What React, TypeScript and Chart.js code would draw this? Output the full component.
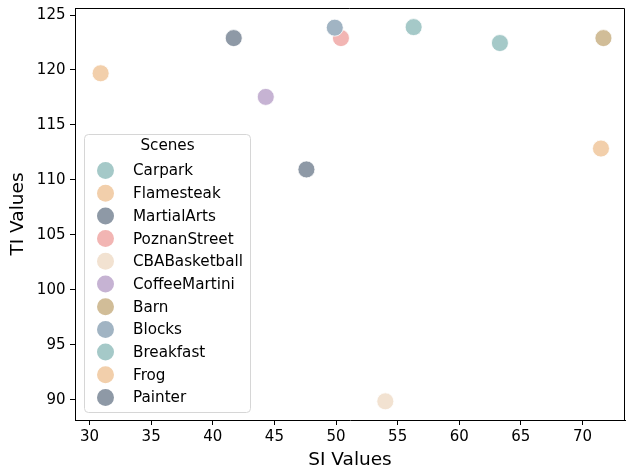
import React, { useEffect, useRef } from "react";
import { Chart, registerables } from "chart.js";

Chart.register(...registerables);

const scenes = ["Carpark", "Flamesteak", "MartialArts", "PoznanStreet", "CBABasketball", "CoffeeMartini", "Barn", "Blocks", "Breakfast", "Frog", "Painter"];
const siValues = [56.3, 30.9, 41.7, 50.4, 54.0, 44.3, 71.7, 49.9, 63.3, 71.5, 47.6];
const tiValues = [123.9, 119.7, 122.9, 122.9, 89.85, 117.55, 122.9, 123.85, 122.45, 112.85, 110.95];
const colors = ["#a5c9c8", "#f2cfab", "#8e99a6", "#f2b5b3", "#f2e2d1", "#c6b3d3", "#d1bd98", "#a1b4c3", "#a5c9c8", "#f2cfab", "#8e99a6"];
const xTicks = [30, 35, 40, 45, 50, 55, 60, 65, 70];
const yTicks = [90, 95, 100, 105, 110, 115, 120, 125];
const legendTitle = "Scenes";
const xLabel = "SI Values";
const yLabel = "TI Values";

const FONT = "'DejaVu Sans', sans-serif";

const framePlugin = {
  id: "frameAndLegend",
  afterDraw(chart: any) {
    const ctx = chart.ctx;
    const { left, top, right, bottom } = chart.chartArea;
    ctx.save();
    ctx.strokeStyle = "#000";
    ctx.lineWidth = 1;
    ctx.beginPath();
    ctx.moveTo(left, top + 0.5);
    ctx.lineTo(right - 0.5, top + 0.5);
    ctx.lineTo(right - 0.5, bottom);
    ctx.stroke();

    // legend box
    const bx = left + 9.5, by = top + 126.5, bw = 166, bh = 278, r = 4;
    ctx.beginPath();
    ctx.moveTo(bx + r, by);
    ctx.lineTo(bx + bw - r, by);
    ctx.arcTo(bx + bw, by, bx + bw, by + r, r);
    ctx.lineTo(bx + bw, by + bh - r);
    ctx.arcTo(bx + bw, by + bh, bx + bw - r, by + bh, r);
    ctx.lineTo(bx + r, by + bh);
    ctx.arcTo(bx, by + bh, bx, by + bh - r, r);
    ctx.lineTo(bx, by + r);
    ctx.arcTo(bx, by, bx + r, by, r);
    ctx.closePath();
    ctx.fillStyle = "rgba(255,255,255,0.8)";
    ctx.fill();
    ctx.strokeStyle = "#d6d6d6";
    ctx.stroke();

    ctx.fillStyle = "#000";
    ctx.font = `15.2px ${FONT}`;
    ctx.textBaseline = "middle";
    ctx.textAlign = "center";
    ctx.fillText(legendTitle, bx + 83, top + 138);
    ctx.textAlign = "left";
    chart.data.datasets.forEach((ds: any, i: number) => {
      const y = top + 162.5 + i * 22.7;
      ctx.beginPath();
      ctx.arc(bx + 21, y, 8.5, 0, Math.PI * 2);
      ctx.fillStyle = ds.backgroundColor;
      ctx.fill();
      ctx.fillStyle = "#000";
      ctx.fillText(ds.label, bx + 48.5, y + 1);
    });
    ctx.restore();
  },
};

export default function App() {
  const ref = useRef<HTMLCanvasElement | null>(null);
  useEffect(() => {
    if (!ref.current) return;
    const datasets = scenes.map((s, i) => ({
      label: s,
      data: [{ x: siValues[i], y: tiValues[i] }],
      backgroundColor: colors[i],
      borderColor: "#ffffff",
      borderWidth: 0.8,
      pointRadius: 8.5,
      pointHoverRadius: 8.5,
      order: scenes.length - i,
    }));
    const zeroPad = (scale: any) => {
      scale.paddingLeft = 0;
      scale.paddingRight = 0;
      scale.paddingTop = 0;
      scale.paddingBottom = 0;
    };
    const chart = new Chart(ref.current, {
      type: "scatter",
      data: { datasets },
      options: {
        animation: false,
        responsive: false,
        devicePixelRatio: 1,
        layout: { autoPadding: false, padding: { top: 8, right: 1, left: 0, bottom: 0 } },
        plugins: { legend: { display: false }, tooltip: { enabled: false } },
        scales: {
          x: {
            type: "linear",
            min: 28.82,
            max: 73.45,
            afterBuildTicks: (scale: any) => {
              scale.ticks = xTicks.map((v) => ({ value: v }));
            },
            afterFit: (scale: any) => {
              scale.height = 52;
              zeroPad(scale);
            },
            grid: { drawOnChartArea: false, drawTicks: true, tickLength: 5, tickColor: "#000" },
            border: { display: true, color: "#000", width: 1 },
            ticks: { color: "#000", font: { family: FONT, size: 15 }, padding: 3, maxRotation: 0 },
            title: { display: true, text: xLabel, color: "#000", font: { family: FONT, size: 18.5 }, padding: { top: 0, bottom: 1 } },
          },
          y: {
            type: "linear",
            min: 88.15,
            max: 125.64,
            afterBuildTicks: (scale: any) => {
              scale.ticks = yTicks.map((v) => ({ value: v }));
            },
            afterFit: (scale: any) => {
              scale.width = 75;
              zeroPad(scale);
            },
            grid: { drawOnChartArea: false, drawTicks: true, tickLength: 5, tickColor: "#000" },
            border: { display: true, color: "#000", width: 1 },
            ticks: { color: "#000", font: { family: FONT, size: 15 }, padding: 4.5 },
            title: { display: true, text: yLabel, color: "#000", font: { family: FONT, size: 18.5 }, padding: { top: 7, bottom: 0 } },
          },
        },
      },
      plugins: [framePlugin],
    });
    return () => chart.destroy();
  }, []);
  return (
    <div style={{ position: "absolute", left: 0, top: 0, width: 626, height: 472, background: "#fff" }}>
      <canvas ref={ref} width={626} height={472} style={{ width: 626, height: 472, display: "block" }} />
    </div>
  );
}
